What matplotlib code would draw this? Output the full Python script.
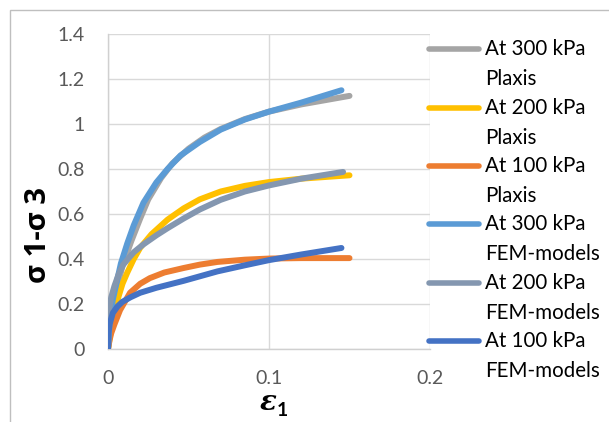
import matplotlib
matplotlib.use("Agg")
import matplotlib.pyplot as plt
from matplotlib.lines import Line2D
from matplotlib.patches import Rectangle

# ---- data ----
eps_300_plaxis = [0, 0.002, 0.005, 0.009, 0.0145, 0.02, 0.025, 0.033, 0.04, 0.05, 0.06, 0.07, 0.085, 0.1, 0.12, 0.15]
sig_300_plaxis = [0, 0.12, 0.25, 0.37, 0.48, 0.58, 0.665, 0.76, 0.825, 0.89, 0.94, 0.978, 1.022, 1.055, 1.087, 1.125]

eps_200_plaxis = [0, 0.002, 0.004, 0.006, 0.009, 0.012, 0.016, 0.02, 0.027, 0.037, 0.047, 0.057, 0.07, 0.085, 0.1, 0.12, 0.15]
sig_200_plaxis = [0, 0.09, 0.16, 0.22, 0.29, 0.34, 0.40, 0.45, 0.51, 0.575, 0.625, 0.665, 0.70, 0.725, 0.742, 0.757, 0.772]

eps_100_plaxis = [0, 0.001, 0.002, 0.004, 0.0075, 0.0137, 0.02, 0.026, 0.035, 0.047, 0.057, 0.068, 0.085, 0.1, 0.12, 0.15]
sig_100_plaxis = [0, 0.04, 0.07, 0.11, 0.173, 0.25, 0.29, 0.315, 0.34, 0.36, 0.375, 0.387, 0.397, 0.402, 0.404, 0.404]

eps_300_fem = [0, 0.001, 0.003, 0.0055, 0.008, 0.012, 0.016, 0.022, 0.03, 0.037, 0.045, 0.057, 0.07, 0.085, 0.1, 0.12, 0.145]
sig_300_fem = [0, 0.12, 0.22, 0.30, 0.38, 0.47, 0.55, 0.65, 0.74, 0.80, 0.86, 0.92, 0.975, 1.02, 1.055, 1.095, 1.15]

eps_200_fem = [0, 0.0005, 0.002, 0.004, 0.0065, 0.0095, 0.013, 0.016, 0.022, 0.03, 0.037, 0.047, 0.057, 0.07, 0.085, 0.1, 0.12, 0.146]
sig_200_fem = [0, 0.17, 0.23, 0.28, 0.33, 0.375, 0.405, 0.43, 0.465, 0.505, 0.537, 0.58, 0.62, 0.663, 0.70, 0.727, 0.757, 0.787]

eps_100_fem = [0, 0.0003, 0.001, 0.003, 0.006, 0.009, 0.014, 0.02, 0.03, 0.047, 0.057, 0.068, 0.085, 0.1, 0.12, 0.145]
sig_100_fem = [0, 0.07, 0.11, 0.16, 0.19, 0.21, 0.23, 0.25, 0.272, 0.303, 0.323, 0.345, 0.372, 0.395, 0.42, 0.449]

series_labels = ["At 300 kPa\nPlaxis", "At 200 kPa\nPlaxis", "At 100 kPa\nPlaxis",
                 "At 300 kPa\nFEM-models", "At 200 kPa\nFEM-models", "At 100 kPa\nFEM-models"]
series_colors = ["#A5A5A5", "#FFC000", "#ED7D31", "#5B9BD5", "#8497B0", "#4472C4"]
series_data = [(eps_300_plaxis, sig_300_plaxis), (eps_200_plaxis, sig_200_plaxis),
               (eps_100_plaxis, sig_100_plaxis), (eps_300_fem, sig_300_fem),
               (eps_200_fem, sig_200_fem), (eps_100_fem, sig_100_fem)]

x_ticks = [0, 0.1, 0.2]
x_ticklabels = ["0", "0.1", "0.2"]
y_ticks = [0, 0.2, 0.4, 0.6, 0.8, 1.0, 1.2, 1.4]
y_ticklabels = ["0", "0.2", "0.4", "0.6", "0.8", "1", "1.2", "1.4"]

plt.rcParams['font.family'] = ['Lato', 'DejaVu Sans']

W, H = 609, 422
fig = plt.figure(figsize=(W / 100, H / 100), dpi=100)

# chart border
fig.add_artist(Rectangle((10 / W, -0.1), 1.2, 1 - 10 / H + 0.1, transform=fig.transFigure,
                         fill=False, edgecolor="#BFBFBF", lw=1.0))

ax = fig.add_axes([108 / W, 1 - 349 / H, (430 - 108) / W, (349 - 34) / H])
for (x, y), c in zip(series_data, series_colors):
    ax.plot(x, y, color=c, lw=4.3, solid_capstyle="round", solid_joinstyle="round", zorder=3)

ax.set_xlim(0, 0.2)
ax.set_ylim(0, 1.4)
ax.set_xticks(x_ticks)
ax.set_xticklabels(x_ticklabels)
ax.set_yticks(y_ticks)
ax.set_yticklabels(y_ticklabels)
ax.tick_params(length=0, labelsize=14, labelcolor="#595959")
ax.tick_params(axis="y", pad=17)
ax.tick_params(axis="x", pad=15)
ax.grid(True, color="#D9D9D9", lw=1.0)
ax.set_axisbelow(True)
for s in ["top", "right"]:
    ax.spines[s].set_visible(False)
for s in ["left", "bottom"]:
    ax.spines[s].set_color("#D0D0D0")
    ax.spines[s].set_linewidth(1.0)

fig.text(38 / W, 1 - 235 / H, "σ 1-σ 3", rotation=90, ha="center", va="center",
         fontsize=21, fontweight="bold", family=["Open Sans", "DejaVu Sans"], color="black")
fig.text(268 / W, 1 - 403 / H, "ε", ha="center", va="center", fontsize=20,
         fontweight="bold", fontstyle="italic", family="DejaVu Serif", color="black")
fig.text(282 / W, 1 - 411 / H, "1", ha="center", va="center", fontsize=14,
         fontweight="bold", color="black")

# legend (manual, to keep Excel-like layout of two-line labels)
first_line_y = [49, 108, 166, 224, 283, 341]
for lbl, c, yy in zip(series_labels, series_colors, first_line_y):
    yf = 1 - yy / H
    fig.add_artist(Line2D([429 / W, 479 / W], [yf, yf], transform=fig.transFigure,
                          color=c, lw=4.0, solid_capstyle="round"))
    l1, l2 = lbl.split("\n")
    fig.text(485 / W, yf, l1, ha="left", va="center", fontsize=14.8, color="black")
    fig.text(485 / W, 1 - (yy + 30) / H, l2, ha="left", va="center", fontsize=14.8, color="black")

fig.savefig("out.png", dpi=100)
